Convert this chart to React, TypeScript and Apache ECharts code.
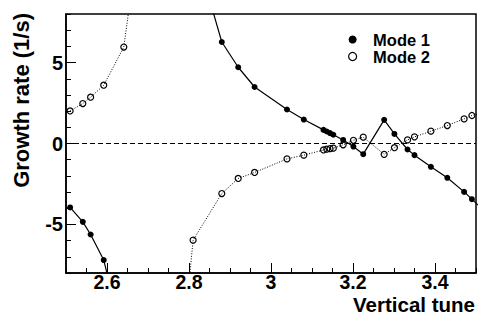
import React, { useEffect, useRef } from 'react';
import * as echarts from 'echarts';

const FONT = '"Liberation Sans", Arial, Helvetica, sans-serif';

// Mode 1 (filled circles, solid line) – left branch
const mode1LeftTune = [2.510, 2.541, 2.560, 2.592, 2.641];
const mode1LeftRate = [-3.95, -4.84, -5.62, -7.20, -12.2];

// Mode 1 – right branch
const mode1RightTune = [2.810, 2.880, 2.920, 2.960, 3.039, 3.080, 3.128, 3.136, 3.144, 3.152, 3.176, 3.201, 3.225, 3.276, 3.301, 3.333, 3.350, 3.390, 3.430, 3.471, 3.490, 3.510];
const mode1RightRate = [12.4, 6.27, 4.71, 3.49, 2.10, 1.48, 0.84, 0.74, 0.64, 0.54, 0.22, -0.19, -0.66, 1.46, 0.59, -0.37, -0.72, -1.44, -2.12, -2.99, -3.44, -3.92];

// Mode 2 (open circles, dotted line) – left branch
const mode2LeftTune = [2.510, 2.541, 2.560, 2.592, 2.641, 2.660];
const mode2LeftRate = [2.01, 2.47, 2.86, 3.60, 5.96, 9.5];

// Mode 2 – right branch
const mode2RightTune = [2.797, 2.810, 2.880, 2.920, 2.960, 3.039, 3.080, 3.128, 3.136, 3.144, 3.152, 3.176, 3.201, 3.225, 3.276, 3.301, 3.333, 3.350, 3.390, 3.430, 3.471, 3.490, 3.510];
const mode2RightRate = [-9.4, -5.97, -3.09, -2.16, -1.79, -0.95, -0.72, -0.40, -0.35, -0.32, -0.29, -0.08, 0.20, 0.39, -0.67, -0.26, 0.22, 0.41, 0.76, 1.11, 1.52, 1.73, 1.85];

// Axis ranges and labelled ticks
const xRange = [2.5, 3.5];
const yRange = [-8, 8];
const xLabelRange = [2.6, 3.4];
const yLabelRange = [-5, 5];

const zip = (xs: number[], ys: number[]) => xs.map((x, i) => [x, ys[i]]);

export default function App() {
  const ref = useRef<HTMLDivElement>(null);

  useEffect(() => {
    const W = 478, H = 316;
    const chart = echarts.init(ref.current!, null, { renderer: 'svg', width: W, height: H });

    const plot = { left: 66, right: 2, top: 14, bottom: 43 };
    const plotW = W - plot.left - plot.right;
    const plotH = H - plot.top - plot.bottom;
    const px = (v: number) => plot.left + ((v - xRange[0]) / (xRange[1] - xRange[0])) * plotW;
    const py = (v: number) => plot.top + ((yRange[1] - v) / (yRange[1] - yRange[0])) * plotH;

    const black = '#000';
    const mode1Style = {
      type: 'line' as const,
      name: 'Mode 1',
      xAxisIndex: 0,
      yAxisIndex: 0,
      symbol: 'circle',
      symbolSize: 6,
      clip: true,
      itemStyle: { color: black },
      lineStyle: { color: black, width: 1.2 },
    };
    const mode2Style = {
      type: 'line' as const,
      name: 'Mode 2',
      xAxisIndex: 0,
      yAxisIndex: 0,
      symbol: 'circle',
      symbolSize: 6,
      clip: true,
      itemStyle: { color: 'rgba(0,0,0,0)', borderColor: black, borderWidth: 1.2 },
      lineStyle: { color: black, width: 1, type: [1, 1.6] as any },
    };

    const labelStyle = { fontSize: 20, fontWeight: 'bold' as const, fontFamily: FONT, color: black };

    chart.setOption({
      animation: false,
      backgroundColor: '#fff',
      grid: [
        { left: plot.left, right: plot.right, top: plot.top, bottom: plot.bottom, show: true, borderColor: black, borderWidth: 1.5 },
        { left: px(xLabelRange[0]), right: W - px(xLabelRange[1]), top: plot.top, bottom: plot.bottom },
        { left: plot.left, right: plot.right, top: py(yLabelRange[1]), bottom: H - py(yLabelRange[0]) },
      ],
      xAxis: [
        {
          gridIndex: 0, type: 'value', min: xRange[0], max: xRange[1], interval: 0.05,
          axisLine: { show: true, onZero: false, lineStyle: { color: black, width: 1.5 } },
          axisTick: { show: true, inside: true, length: 5, lineStyle: { color: black, width: 1 } },
          axisLabel: { show: false },
          splitLine: { show: false },
        },
        {
          gridIndex: 1, type: 'value', min: xLabelRange[0], max: xLabelRange[1], interval: 0.2,
          axisLine: { show: false, onZero: false },
          axisTick: { show: true, inside: true, length: 10, lineStyle: { color: black, width: 1 } },
          axisLabel: { show: true, margin: 1, lineHeight: 16, ...labelStyle, fontSize: 19.5, formatter: (v: number) => String(+v.toFixed(2)) },
          splitLine: { show: false },
        },
        { gridIndex: 2, type: 'value', min: xRange[0], max: xRange[1], show: false },
      ],
      yAxis: [
        {
          gridIndex: 0, type: 'value', min: yRange[0], max: yRange[1], interval: 1,
          axisLine: { show: true, onZero: false, lineStyle: { color: black, width: 1.5 } },
          axisTick: { show: true, inside: true, length: 5, lineStyle: { color: black, width: 1 } },
          axisLabel: { show: false },
          splitLine: { show: false },
        },
        { gridIndex: 1, type: 'value', min: yRange[0], max: yRange[1], show: false },
        {
          gridIndex: 2, type: 'value', min: yLabelRange[0], max: yLabelRange[1], interval: 5,
          axisLine: { show: false, onZero: false },
          axisTick: { show: true, inside: true, length: 10, lineStyle: { color: black, width: 1 } },
          axisLabel: { show: true, margin: 3, ...labelStyle },
          splitLine: { show: false },
        },
      ],
      legend: {
        show: true,
        orient: 'vertical',
        left: 348,
        top: 31,
        padding: 0,
        itemGap: 0,
        itemWidth: 31,
        itemHeight: 8,
        icon: 'circle',
        textStyle: { fontSize: 16.5, fontWeight: 'bold', fontFamily: FONT, color: black },
        data: [
          { name: 'Mode 1', itemStyle: { color: black } },
          { name: 'Mode 2', itemStyle: { color: '#fff', borderColor: black, borderWidth: 1.2 } },
        ],
      },
      series: [
        {
          ...mode1Style,
          data: zip(mode1LeftTune, mode1LeftRate),
          markLine: {
            silent: true,
            symbol: ['none', 'none'],
            label: { show: false },
            lineStyle: { color: black, type: [5, 3] as any, width: 1 },
            data: [{ yAxis: 0 }],
          },
        },
        { ...mode1Style, data: zip(mode1RightTune, mode1RightRate) },
        { ...mode2Style, data: zip(mode2LeftTune, mode2LeftRate) },
        { ...mode2Style, data: zip(mode2RightTune, mode2RightRate) },
      ],
      graphic: [
        {
          type: 'text',
          x: 21,
          y: 13,
          rotation: Math.PI / 2,
          style: {
            text: 'Growth rate (1/s)',
            fontSize: 22, fontWeight: 'bold', fontFamily: FONT, fill: black,
            align: 'right', verticalAlign: 'middle',
            textAlign: 'right', textVerticalAlign: 'middle',
          },
        },
        {
          type: 'text',
          x: 475,
          y: 304.5,
          style: {
            text: 'Vertical tune',
            fontSize: 20.5, fontWeight: 'bold', fontFamily: FONT, fill: black,
            align: 'right', verticalAlign: 'middle',
            textAlign: 'right', textVerticalAlign: 'middle',
          },
        },
      ],
    });

    return () => chart.dispose();
  }, []);

  return (
    <div
      ref={ref}
      style={{ position: 'absolute', left: 0, top: 0, width: 478, height: 316, background: '#fff' }}
    />
  );
}
